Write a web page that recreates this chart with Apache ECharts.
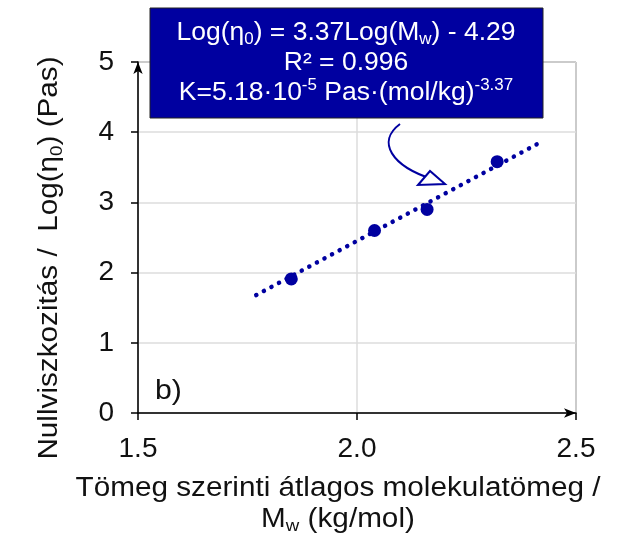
<!DOCTYPE html>
<html>
<head>
<meta charset="UTF-8">
<title>Log viszkozitás</title>
<script type="text/javascript" src="https://cdn.jsdelivr.net/npm/echarts@6/dist/echarts.min.js"></script>
</head>
<body style="margin:0">
	<div id="show" style="width:632px;height:542px"></div>
	<script type="text/javascript">
		// mért pontok: Log(Mw), Log(eta0)
		var logMw=[1.85,2.04,2.16,2.32];
		var logEta=[1.91,2.60,2.90,3.58];
		// trendvonal végpontjai
		var trendX=[1.77,2.42];
		var trendY=[1.68,3.86];
		var xTicks=[1.5,2.0,2.5];
		var yTicks=[0,1,2,3,4,5];

		var blue='#0000a0';
		var font='"Liberation Sans", Arial, sans-serif';

		var pts=[];
		for(var i=0;i<logMw.length;i++){
			pts.push([logMw[i],logEta[i]]);
		}
		var trend=[];
		for(var i=0;i<trendX.length;i++){
			trend.push([trendX[i],trendY[i]]);
		}

		var myCharts=echarts.init(document.getElementById('show'));
		myCharts.setOption({
			animation:false,
			grid:{
				left:138,right:56,top:62,bottom:129,
				show:true,borderColor:'#333',borderWidth:1
			},
			xAxis:{
				type:'value',
				min:xTicks[0],max:xTicks[xTicks.length-1],interval:0.5,
				axisLine:{show:true,symbol:['none','arrow'],symbolSize:[7,12],lineStyle:{color:'#000',width:1.5}},
				axisTick:{show:true,length:7,lineStyle:{color:'#000',width:1.5}},
				axisLabel:{
					margin:22,fontSize:28,color:'#111',fontFamily:font,
					formatter:function(v){return v.toFixed(1);}
				},
				splitLine:{show:true,lineStyle:{color:'#ddd',width:1.5}}
			},
			yAxis:{
				type:'value',
				min:yTicks[0],max:yTicks[yTicks.length-1],interval:1,
				axisLine:{show:true,symbol:['none','arrow'],symbolSize:[7,12],lineStyle:{color:'#000',width:1.5}},
				axisTick:{show:true,length:7,lineStyle:{color:'#000',width:1.5}},
				axisLabel:{margin:24,fontSize:28,color:'#111',fontFamily:font},
				splitLine:{show:true,lineStyle:{color:'#ddd',width:1.5}}
			},
			series:[{
				name:'trend',
				type:'line',
				data:trend,
				symbol:'none',
				lineStyle:{color:blue,width:4.5,type:[0.1,8.5],cap:'round'},
				z:2
			},{
				name:'meres',
				type:'scatter',
				data:pts,
				symbolSize:13,
				itemStyle:{color:blue,opacity:1},
				z:3
			}],
			graphic:[{
				type:'rect',
				shape:{x:150,y:8,width:393,height:110},
				style:{fill:blue,stroke:'#222',lineWidth:1},
				z:100
			},{
				type:'text',
				x:346,y:63,z:101,scaleX:1.06,
				style:{
					text:'{n|Log(η}{s|0}{n|) = 3.37Log(M}{s|w}{n|) - 4.29}\n{n|R² = 0.996}\n{n|K=5.18·10}{p|-5}{n| Pas·(mol/kg)}{p|-3.37}',
					align:'center',verticalAlign:'middle',fill:'#fff',
					rich:{
						n:{fontSize:25,fontFamily:font,fill:'#fff',lineHeight:30},
						s:{fontSize:16,fontFamily:font,fill:'#fff',lineHeight:30,verticalAlign:'bottom'},
						p:{fontSize:16,fontFamily:font,fill:'#fff',lineHeight:30,verticalAlign:'top'}
					}
				}
			},{
				type:'bezierCurve',
				shape:{x1:400,y1:124,cpx1:376,cpy1:142,cpx2:392,cpy2:166,x2:432,y2:179},
				style:{stroke:blue,lineWidth:2,fill:null},
				z:50
			},{
				type:'polygon',
				shape:{points:[[445,184],[430,171],[418,185]]},
				style:{stroke:blue,lineWidth:2,fill:'#fff'},
				z:51
			},{
				type:'text',
				x:155,y:391,z:50,scaleX:1.08,
				style:{text:'b)',fontSize:28,fontFamily:font,fill:'#111',verticalAlign:'middle'}
			},{
				type:'text',
				x:338,y:504,z:50,scaleX:1.1,
				style:{
					text:'{n|Tömeg szerinti átlagos molekulatömeg /}\n{n|M}{s|w}{n| (kg/mol)}',
					align:'center',verticalAlign:'middle',
					rich:{
						n:{fontSize:27,fontFamily:font,fill:'#111',lineHeight:31},
						s:{fontSize:17,fontFamily:font,fill:'#111',lineHeight:31,verticalAlign:'bottom'}
					}
				}
			},{
				type:'text',
				x:50,y:258,rotation:Math.PI/2,z:50,scaleX:1.1,
				style:{
					text:'{n|Nullviszkozitás /  Log(η}{s|0}{n|) (Pas)}',
					align:'center',verticalAlign:'middle',
					rich:{
						n:{fontSize:27,fontFamily:font,fill:'#111',lineHeight:31},
						s:{fontSize:17,fontFamily:font,fill:'#111',lineHeight:31,verticalAlign:'bottom'}
					}
				}
			}]
		});
	</script>
</body>
</html>
